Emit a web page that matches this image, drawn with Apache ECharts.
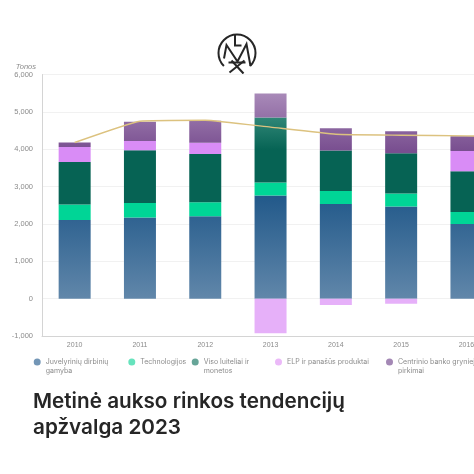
<!DOCTYPE html>
<html>
<head>
<meta charset="utf-8">
<style>
  html, body { margin: 0; padding: 0; background: #fff; overflow: hidden; }
  #chart { width: 474px; height: 474px; }
</style>
<script src="https://cdn.jsdelivr.net/npm/echarts@6/dist/echarts.min.js"></script>
</head>
<body>
<div id="chart"></div>
<script>
'use strict'

var years = ['2010', '2011', '2012', '2013', '2014', '2015', '2016', '2017'];
var yTicks = [-1000, 0, 1000, 2000, 3000, 4000, 5000, 6000];

var jewellery = [2107, 2170, 2205, 2759, 2536, 2464, 2000, null];
var technology = [411, 392, 375, 348, 348, 348, 321, null];
var barsCoins = [1142, 1411, 1295, 1741, 1080, 1081, 1090, null];
var etf = [402, 250, 295, -929, -170, -134, 544, null];
var centralBanks = [117, 509, 589, 643, 598, 589, 393, null];
var price = [4179, 4750, 4777, 4590, 4400, 4375, 4357, 4340];

var names = [
  'Juvelyrinių dirbinių gamyba',
  'Technologijos',
  'Viso luiteliai ir monetos',
  'ELP ir panašūs produktai',
  'Centrinio banko grynieji pirkimai'
];
// leading blank line keeps the icon level with the first text line
var legendLabels = [
  '\nJuvelyrinių dirbinių\ngamyba',
  'Technologijos',
  '\nViso luiteliai ir\nmonetos',
  'ELP ir panašūs produktai',
  '\nCentrinio banko grynieji\npirkimai'
];
var legendLeft = [33.7, 128.3, 191.7, 275, 386];
var legendColors = ['#7396b6', '#66e3bd', '#67a598', '#ebb9f8', '#a488b5'];

function heightGradient(y1, c1, y2, c2) {
  return {
    type: 'linear', global: true, x: 0, y: y1, x2: 0, y2: y2,
    colorStops: [{ offset: 0, color: c1 }, { offset: 1, color: c2 }]
  };
}

var fills = [
  heightGradient(196, '#22598a', 299, '#6187aa'),
  '#00d596',
  heightGradient(118, '#2f8676', 150, '#066354'),
  function (p) { return p.value < 0 ? '#e6b0f9' : '#d98cf6'; },
  heightGradient(94, '#a889b8', 150, '#794f90')
];

var stackData = [jewellery, technology, barsCoins, etf, centralBanks];

var series = stackData.map(function (values, i) {
  return {
    name: names[i],
    type: 'bar',
    stack: 'demand',
    barWidth: 32,
    data: values,
    itemStyle: { color: fills[i] },
    silent: true
  };
});

series.push({
  name: 'Kaina',
  type: 'line',
  smooth: 0.12,
  symbol: 'none',
  z: 5,
  data: price,
  lineStyle: { color: '#dcc27f', width: 1.4 },
  silent: true
});

var legends = names.map(function (name, i) {
  var twoLines = legendLabels[i].indexOf('\n') >= 0;
  return {
    left: legendLeft[i],
    top: twoLines ? 348.5 : 357.5,
    orient: 'horizontal',
    data: [{ name: name, icon: 'circle', itemStyle: { color: legendColors[i] } }],
    itemWidth: 7,
    itemHeight: 7,
    itemGap: 0,
    padding: 0,
    selectedMode: false,
    formatter: function () { return legendLabels[i]; },
    textStyle: {
      fontFamily: 'Inter',
      fontSize: 7,
      lineHeight: 9,
      color: '#8b8b8b'
    }
  };
});

var chart = echarts.init(document.getElementById('chart'), null, { renderer: 'canvas' });

var logoStyle = { stroke: '#262626', lineWidth: 2, fill: null };

chart.setOption({
  animation: false,
  backgroundColor: '#fff',
  title: {
    text: 'Metinė aukso rinkos tendencijų\napžvalga 2023',
    left: 33,
    top: 389,
    padding: 0,
    textStyle: {
      fontFamily: 'Inter',
      fontSize: 20.7,
      fontWeight: 600,
      lineHeight: 26,
      color: '#262626'
    }
  },
  legend: legends,
  grid: { left: 42, top: 74.5, width: 522.4, height: 261.5, outerBoundsMode: 'none' },
  xAxis: {
    type: 'category',
    data: years,
    axisLine: { onZero: false, lineStyle: { color: '#d4d4d4' } },
    axisTick: { show: false },
    axisLabel: { fontFamily: 'Liberation Sans', fontSize: 7, color: '#8b8b8b', margin: 6 }
  },
  yAxis: {
    type: 'value',
    min: yTicks[0],
    max: yTicks[yTicks.length - 1],
    interval: 1000,
    name: 'Tonos',
    nameLocation: 'end',
    nameGap: 3,
    nameTextStyle: {
      fontFamily: 'Liberation Sans', fontStyle: 'italic', fontSize: 7.5,
      color: '#8b8b8b', align: 'right', padding: [0, 6, 0, 0]
    },
    axisLine: { show: true, lineStyle: { color: '#d4d4d4' } },
    axisTick: { show: false },
    axisLabel: {
      fontFamily: 'Liberation Sans', fontSize: 7.5, color: '#8b8b8b', margin: 9,
      formatter: function (v) { return v.toLocaleString('en-US'); }
    },
    splitLine: { lineStyle: { color: '#f1f1f1' } }
  },
  series: series,
  graphic: [{
    type: 'group',
    left: 216,
    top: 32,
    silent: true,
    children: [
      { type: 'arc', shape: { cx: 20.5, cy: 19.5, r: 18.5, startAngle: Math.PI * 0.75, endAngle: Math.PI * 0.25, clockwise: true }, style: logoStyle },
      { type: 'polyline', shape: { points: [[7.5, 25], [10, 11.5], [21, 28], [30, 10.5], [34, 32.5]] }, style: logoStyle },
      { type: 'polyline', shape: { points: [[18.5, 1], [18.5, 12], [25, 12]] }, style: logoStyle },
      { type: 'line', shape: { x1: 12, y1: 29, x2: 29, y2: 29 }, style: logoStyle },
      { type: 'line', shape: { x1: 13, y1: 39, x2: 28, y2: 27 }, style: logoStyle },
      { type: 'line', shape: { x1: 15, y1: 27, x2: 27, y2: 40 }, style: logoStyle }
    ]
  }]
});
</script>
</body>
</html>
